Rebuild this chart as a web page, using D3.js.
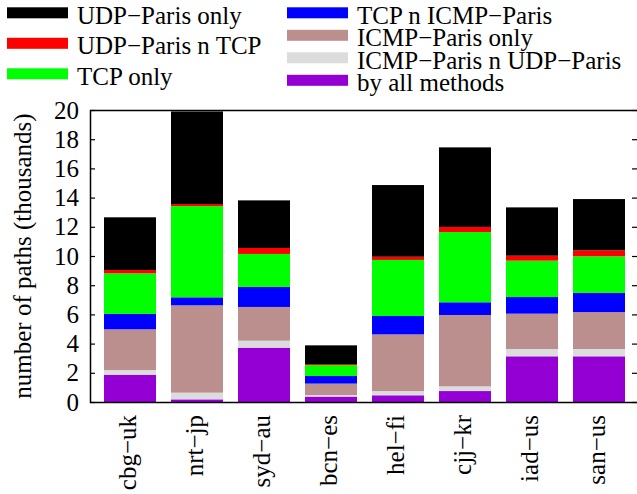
<!DOCTYPE html>
<html>
<head>
<meta charset="utf-8">
<script src="https://cdn.jsdelivr.net/npm/d3@7"></script>
<style>
  body { margin: 0; background: #fff; }
</style>
</head>
<body>
<script>
// sites (x axis)
const sites = ["cbg\u2212uk", "nrt\u2212jp", "syd\u2212au", "bcn\u2212es", "hel\u2212fi", "cjj\u2212kr", "iad\u2212us", "san\u2212us"];

// thousands of paths, per site, bottom of stack first
const allMethods = [1.87, 0.18, 3.72, 0.37, 0.46, 0.75, 3.13, 3.13];
const icmpUdp    = [0.32, 0.46, 0.48, 0.11, 0.29, 0.32, 0.50, 0.50];
const icmpOnly   = [2.79, 5.98, 2.31, 0.78, 3.88, 4.89, 2.42, 2.53];
const tcpIcmp    = [1.05, 0.55, 1.37, 0.52, 1.26, 0.87, 1.14, 1.31];
const tcpOnly    = [2.78, 6.25, 2.26, 0.75, 3.84, 4.81, 2.49, 2.51];
const udpTcp     = [0.23, 0.14, 0.41, 0.07, 0.22, 0.35, 0.34, 0.41];
const udpOnly    = [3.61, 6.34, 3.26, 1.28, 4.91, 5.45, 3.31, 3.51];

const yTicks = [0, 2, 4, 6, 8, 10, 12, 14, 16, 18, 20];

const series = [
    {key: "all",      label: "by all methods",                 color: "#9400d3", values: allMethods},
    {key: "icmpUdp",  label: "ICMP\u2212Paris n UDP\u2212Paris", color: "#dcdcdc", values: icmpUdp},
    {key: "icmpOnly", label: "ICMP\u2212Paris only",           color: "#bc8f8f", values: icmpOnly},
    {key: "tcpIcmp",  label: "TCP n ICMP\u2212Paris",          color: "#0000ff", values: tcpIcmp},
    {key: "tcpOnly",  label: "TCP only",                       color: "#00ff00", values: tcpOnly},
    {key: "udpTcp",   label: "UDP\u2212Paris n TCP",           color: "#ff0000", values: udpTcp},
    {key: "udpOnly",  label: "UDP\u2212Paris only",            color: "#000000", values: udpOnly}
];

const FONT = "'Liberation Serif', Tinos, 'DejaVu Serif', 'Times New Roman', Times, serif";

const rows = sites.map((s, i) => {
    const r = {site: s};
    series.forEach(d => { r[d.key] = d.values[i]; });
    return r;
});

const W = 637, H = 494;
const margin = {left: 90, top: 110, right: -1, bottom: 92};
const width = W - margin.left - margin.right;
const height = H - margin.top - margin.bottom;

const svg = d3.select("body").append("svg")
    .attr("width", W)
    .attr("height", H);

const g = svg.append("g")
    .attr("transform", "translate(" + margin.left + "," + margin.top + ")");

const x = d3.scaleBand()
    .domain(sites)
    .range([6.5, 542.5])
    .paddingInner(0.224)
    .paddingOuter(0.112);

const y = d3.scaleLinear()
    .domain([0, 20])
    .range([height, 0]);

const stack = d3.stack().keys(series.map(d => d.key));
const stacked = stack(rows);
const colorOf = d3.scaleOrdinal().domain(series.map(d => d.key)).range(series.map(d => d.color));

g.selectAll("g.layer")
    .data(stacked)
    .enter().append("g")
        .attr("class", "layer")
        .attr("fill", d => colorOf(d.key))
    .selectAll("rect")
    .data(d => d)
    .enter().append("rect")
        .attr("x", d => x(d.data.site))
        .attr("y", d => y(d[1]))
        .attr("width", x.bandwidth())
        .attr("height", d => y(d[0]) - y(d[1]));

// frame
g.append("rect")
    .attr("x", 0.5)
    .attr("y", 0.5)
    .attr("width", width)
    .attr("height", height)
    .attr("fill", "none")
    .attr("stroke", "#000")
    .attr("stroke-width", 1.5);

// left axis, ticks inward
const leftAxis = d3.axisLeft(y)
    .tickValues(yTicks)
    .tickSizeInner(-5)
    .tickSizeOuter(0)
    .tickPadding(11);

g.append("g")
    .attr("class", "left axis")
    .call(leftAxis)
    .call(a => a.select(".domain").remove())
    .call(a => a.selectAll("line").attr("stroke-width", 1.2))
    .call(a => a.selectAll("text")
        .style("font-size", "25px")
        .style("font-family", FONT)
        .style("fill", "#000"));

// right side ticks
const rightAxis = d3.axisRight(y)
    .tickValues(yTicks)
    .tickSizeInner(-5)
    .tickSizeOuter(0)
    .tickFormat("");

g.append("g")
    .attr("class", "right axis")
    .attr("transform", "translate(" + (width - 1) + ",0)")
    .call(rightAxis)
    .call(a => a.select(".domain").remove())
    .call(a => a.selectAll("line").attr("stroke-width", 1.2));

// x labels, rotated
g.selectAll("text.site")
    .data(sites)
    .enter().append("text")
        .attr("class", "site")
        .style("font-size", "25px")
        .style("font-family", FONT)
        .attr("text-anchor", "end")
        .attr("transform", d => "translate(" + (x(d) + x.bandwidth() / 2 + 6) + "," + (height + 13) + ") rotate(-90)")
        .text(d => d);

// y title
g.append("text")
    .attr("class", "y axis-label")
    .style("font-size", "25px")
    .style("font-family", FONT)
    .attr("text-anchor", "middle")
    .attr("transform", "translate(" + (31 - margin.left) + "," + (256 - margin.top) + ") rotate(-90)")
    .text("number of paths (thousands)");

// legend: two columns
const leftCol = ["udpOnly", "udpTcp", "tcpOnly"];
const rightCol = ["tcpIcmp", "icmpOnly", "icmpUdp", "all"];
const byKey = {};
series.forEach(d => { byKey[d.key] = d; });

const legend = svg.append("g").attr("class", "legend");

function legendColumn(keys, x0, y0, step) {
    const item = legend.selectAll(null)
        .data(keys)
        .enter().append("g")
            .attr("transform", (d, i) => "translate(" + x0 + "," + (y0 + i * step) + ")");
    item.append("rect")
        .attr("x", 0)
        .attr("y", -5.5)
        .attr("width", 61)
        .attr("height", 11)
        .attr("fill", d => byKey[d].color);
    item.append("text")
        .attr("x", 70)
        .attr("y", 11)
        .style("font-size", "25px")
        .style("font-family", FONT)
        .text(d => byKey[d].label);
}

legendColumn(leftCol, 7, 12.8, 30.5);
legendColumn(rightCol, 287, 12.8, 22.5);
</script>
</body>
</html>
